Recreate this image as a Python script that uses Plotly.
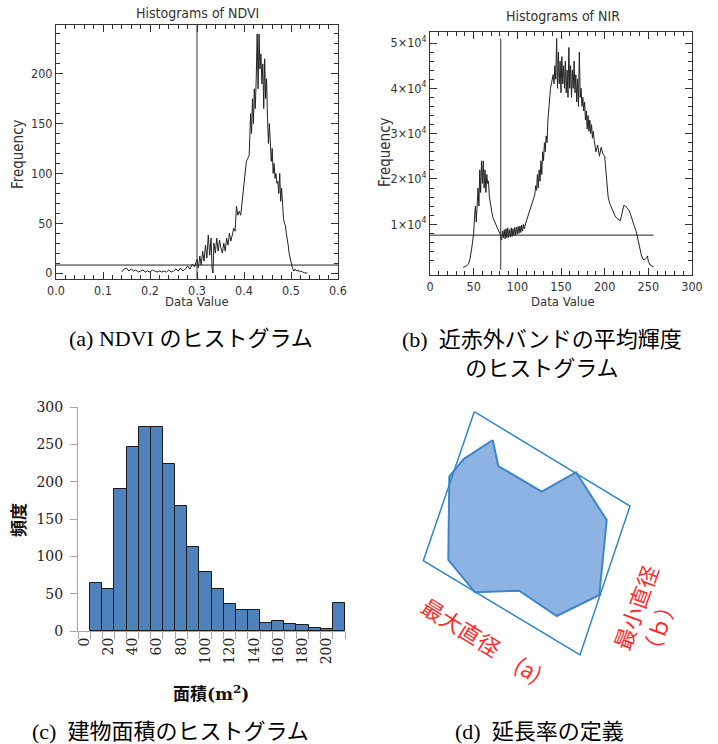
import plotly.graph_objects as go

W, H = 718, 744

# ---------------- (a) NDVI histogram ----------------
ndvi_x = [0.140, 0.145, 0.150, 0.155, 0.160, 0.165, 0.170, 0.175, 0.180, 0.185,
          0.190, 0.195, 0.200, 0.205, 0.210, 0.215, 0.220, 0.225, 0.230, 0.235,
          0.240, 0.245, 0.250, 0.255, 0.260, 0.265, 0.270, 0.275, 0.280, 0.285,
          0.290, 0.295, 0.300,
          0.303, 0.306, 0.309, 0.312, 0.315, 0.318, 0.321, 0.324, 0.327, 0.330,
          0.332, 0.334,
          0.336, 0.339, 0.342, 0.345, 0.348, 0.351, 0.354, 0.357, 0.360, 0.363,
          0.366, 0.369, 0.372, 0.375, 0.378, 0.381, 0.384, 0.387, 0.390, 0.393,
          0.396, 0.399, 0.402, 0.405, 0.408, 0.411, 0.414,
          0.416, 0.418, 0.420, 0.422, 0.424, 0.426, 0.428, 0.430, 0.432, 0.434,
          0.436, 0.438, 0.440, 0.442, 0.444, 0.446, 0.448, 0.450, 0.452, 0.454,
          0.456, 0.458, 0.460, 0.462, 0.464, 0.466, 0.468, 0.470, 0.472, 0.474,
          0.476, 0.478, 0.480, 0.482, 0.484, 0.486, 0.488, 0.490, 0.492, 0.494,
          0.496, 0.498, 0.500,
          0.503, 0.506, 0.509, 0.512, 0.515, 0.518, 0.521,
          0.525, 0.530, 0.535]
ndvi_freq = [1, 4, 5, 2, 4, 2, 3, 1, 2, 3,
             1, 2, 1, 3, 2, 1, 2, 1, 2, 1,
             3, 1, 2, 4, 2, 5, 2, 4, 7, 4,
             9, 6, 14,
             5, 17, 8, 22, 12, 28, 15, 38, 18, 35,
             5, 0,
             30, 20, 35, 22, 33, 25, 20, 30, 22, 35,
             28, 40, 32, 38, 45, 42, 67, 58, 62, 58,
             72, 80, 95, 112, 115, 118, 160,
             140, 175, 150, 185, 165, 195, 240, 185, 240, 205,
             220, 190, 210, 165, 215, 175, 195, 155, 130, 150,
             125, 112, 125, 100, 110, 95, 100, 90, 92, 80,
             100, 72, 85, 65, 55, 50, 48, 40, 35, 28,
             20, 15, 10,
             5, 2, 4, 2, 3, 1, 2,
             1, 0, 0]
ndvi_threshold = 0.30
ndvi_freq_threshold = 8

# ---------------- (b) NIR histogram ----------------
nir_x = [38, 41, 44, 46, 48, 50, 51, 52, 53, 54, 55, 56, 57, 58, 59, 60, 61, 62, 63, 64,
         65, 66, 67, 68, 69, 70, 71, 72, 74, 76, 78, 80, 81, 82, 83, 84, 85, 86, 87, 88,
         89, 90, 91, 92, 93, 94, 95, 96, 97, 98, 99, 100, 101, 102, 103, 104, 105, 106, 107, 108,
         110, 112, 114, 116, 118, 120, 121, 122, 123, 124, 125, 126, 127, 128, 129, 130, 131, 132, 133, 134,
         135, 136, 137, 138, 139, 140, 141, 142, 143, 144, 145, 146, 147, 148, 149, 150, 151, 152, 153, 154,
         155, 156, 157, 158, 159, 160, 161, 162, 163, 164, 165, 166, 167, 168, 169, 170, 171, 172, 173, 174,
         175, 176, 177, 178, 179, 180, 181, 182, 183, 184, 185, 186, 187, 188, 190, 192, 194, 196, 198, 200,
         202, 204, 206, 208, 210, 212, 214, 216, 218, 220, 222, 224, 226, 228, 230, 232, 234, 236, 238, 240,
         242, 244, 246, 248, 249, 250, 252, 254, 256]
nir_freq = [500, 700, 1200, 2500, 5000, 8000, 11600, 14000, 10500, 16000,
            18000, 14000, 22000, 17000, 24000, 19000, 24000, 18000, 22000, 17000,
            21000, 19000, 19500, 16000, 14500, 13000, 12500, 11500, 10500, 9400,
            8800, 8000, 7000, 6500, 8500, 7000, 8800, 6800, 9000, 7000,
            9200, 7100, 8800, 7200, 9200, 7300, 9000, 7500, 9300, 7600,
            9400, 7800, 9500, 8000, 9600, 8200, 9800, 8500, 10000, 9000,
            10500, 11800, 12800, 14000, 15300, 16500, 18500, 17500, 21000, 18000,
            22000, 19500, 24000, 21000, 26000, 24000, 28000, 26000, 29500, 28000,
            33000, 36000, 38000, 40000, 41000, 42000, 43000, 41000, 45000, 42000,
            51000, 40000, 48000, 41000, 46000, 39000, 47000, 41000, 45000, 40000,
            46000, 39000, 44000, 38000, 49000, 40000, 45000, 38000, 44000, 40000,
            46000, 39000, 43000, 37000, 42000, 36000, 48000, 38000, 40000, 36000,
            38000, 35000, 37000, 33000, 35000, 31000, 34000, 30500, 33000, 30000,
            32000, 29000, 30500, 28500, 26000, 27500, 25000, 27000, 25500, 25000,
            20000, 16000, 14500, 13500, 12500, 11800, 11300, 11000, 10800, 12500,
            14200, 14000, 13500, 13000, 12000, 10500, 9500, 8500, 6500, 4800,
            3200, 2200, 2200, 2600, 3000, 1800, 1000, 800, 600]
nir_threshold = 81
nir_threshold_top = 51000
nir_freq_threshold = 7600
nir_line_end = 256
nir_tickvals = [10000, 20000, 30000, 40000, 50000]
nir_ticktext = ["1×10<sup>4</sup>", "2×10<sup>4</sup>", "3×10<sup>4</sup>",
                "4×10<sup>4</sup>", "5×10<sup>4</sup>"]

# ---------------- (c) building area histogram ----------------
area_categories = ["0", "10", "20", "30", "40", "50", "60", "70", "80", "90", "100",
                   "110", "120", "130", "140", "150", "160", "170", "180", "190", "200", "210"]
area_bar_categories = area_categories[1:]
area_counts = [64, 56, 190, 246, 273, 273, 224, 168, 112, 79, 56,
               36, 28, 28, 11, 14, 9, 8, 4, 3, 38]
area_tick_labels = ["0", "", "20", "", "40", "", "60", "", "80", "", "100",
                    "", "120", "", "140", "", "160", "", "180", "", "200", ""]

# ---------------- (d) elongation diagram (local units) ----------------
rect_x = [94.3, 250.0, 200.0, 43.3, 94.3]
rect_y = [288.3, 194.0, 45.0, 139.3, 288.3]
poly_x = [112.7, 118.3, 161.7, 196.0, 226.7, 219.3, 176.7, 139.3, 95.0, 68.3, 69.3, 83.3, 112.7]
poly_y = [260.0, 234.0, 208.3, 227.7, 180.0, 105.0, 84.0, 109.3, 107.7, 140.0, 223.3, 240.7, 260.0]


def dx(a, b):
    return [a / W, b / W]


def dy(top, bottom):
    return [1 - bottom / H, 1 - top / H]


def px(x):
    return x / W


def py(y):
    return 1 - y / H


IDL_FONT = "Liberation Sans Narrow, DejaVu Sans Condensed, Liberation Sans, sans-serif"
IDL_COL = "#333333"
CAP_FONT = "Liberation Serif, Noto Sans CJK JP, serif"

fig = go.Figure()

# (a)
fig.add_trace(go.Scatter(x=ndvi_x, y=ndvi_freq, mode="lines",
                         line=dict(color="#222222", width=1), xaxis="x", yaxis="y"))
# (b)
fig.add_trace(go.Scatter(x=nir_x, y=nir_freq, mode="lines",
                         line=dict(color="#222222", width=1), xaxis="x2", yaxis="y2"))
fig.add_trace(go.Scatter(x=[nir_threshold, nir_threshold], y=[0, nir_threshold_top], mode="lines",
                         line=dict(color="#333333", width=1), xaxis="x2", yaxis="y2"))
fig.add_trace(go.Scatter(x=[0, nir_line_end], y=[nir_freq_threshold, nir_freq_threshold], mode="lines",
                         line=dict(color="#222222", width=1), xaxis="x2", yaxis="y2"))
# (c)
fig.add_trace(go.Bar(x=area_bar_categories, y=area_counts,
                     marker=dict(color="#4F81BD", line=dict(color="#1a1a1a", width=1)),
                     xaxis="x3", yaxis="y3"))
# (d)
fig.add_trace(go.Scatter(x=poly_x, y=poly_y, mode="lines", fill="toself",
                         fillcolor="#8DB3E2", line=dict(color="#3F86C8", width=2),
                         xaxis="x4", yaxis="y4"))
fig.add_trace(go.Scatter(x=rect_x, y=rect_y, mode="lines",
                         line=dict(color="#2E86C8", width=1.5),
                         xaxis="x4", yaxis="y4"))

idl_axis = dict(showline=True, linecolor=IDL_COL, linewidth=1, mirror="ticks",
                ticks="inside", ticklen=7, tickcolor=IDL_COL, showgrid=False, zeroline=False,
                automargin=False,
                tickfont=dict(family=IDL_FONT, size=12.5, color=IDL_COL))

fig.update_layout(
    template="none",
    width=W, height=H, margin=dict(l=0, r=0, t=0, b=0, pad=0), autosize=False,
    paper_bgcolor="white", plot_bgcolor="white", showlegend=False, bargap=0,
    xaxis=dict(domain=dx(56, 338), range=[0, 0.6], dtick=0.1, tickformat=".1f", anchor="y",
               minor=dict(dtick=0.02, ticks="inside", ticklen=4, tickcolor=IDL_COL, showgrid=False), **idl_axis),
    yaxis=dict(domain=dy(25, 279), range=[-6, 249], tickvals=[0, 50, 100, 150, 200], anchor="x",
               minor=dict(tickvals=[10 * k for k in range(0, 25)], ticks="inside", ticklen=4,
                          tickcolor=IDL_COL, showgrid=False), **idl_axis),
    xaxis2=dict(domain=dx(430, 692), range=[0, 300], dtick=50, anchor="y2",
                minor=dict(dtick=10, ticks="inside", ticklen=4, tickcolor=IDL_COL, showgrid=False), **idl_axis),
    yaxis2=dict(domain=dy(32, 275), range=[-1200, 52430], tickvals=nir_tickvals,
                ticktext=nir_ticktext, anchor="x2",
                minor=dict(tickvals=[2000 * k for k in range(1, 26)], ticks="inside", ticklen=4,
                           tickcolor=IDL_COL, showgrid=False), **idl_axis),
    xaxis3=dict(domain=dx(78, 345), type="category", categoryorder="array",
                categoryarray=area_categories, range=[-0.5, 21.5], anchor="y3",
                tickmode="array", tickvals=area_categories, ticktext=area_tick_labels,
                tickson="boundaries", ticks="outside", ticklen=7, tickcolor="#A6A6A6",
                showline=True, linecolor="#A6A6A6", linewidth=1, tickangle=-90,
                showgrid=False, zeroline=False, automargin=False,
                tickfont=dict(family="DejaVu Serif, serif", size=14, color="#222222")),
    yaxis3=dict(domain=dy(407, 631), range=[0, 300], dtick=50, anchor="x3",
                ticks="outside", ticklen=7, tickcolor="#A6A6A6",
                showline=True, linecolor="#A6A6A6", linewidth=1,
                showgrid=False, zeroline=False, ticklabelstandoff=4, automargin=False,
                tickfont=dict(family="DejaVu Serif, serif", size=14, color="#222222")),
    xaxis4=dict(domain=dx(380, 718), range=[0, 338], visible=False, anchor="y4", automargin=False),
    yaxis4=dict(domain=dy(390, 700), range=[0, 310], visible=False, anchor="x4", automargin=False),
)

# threshold lines in (a)
fig.add_shape(type="line", xref="x", yref="y domain", x0=ndvi_threshold, x1=ndvi_threshold,
              y0=0, y1=1, line=dict(color="#333333", width=1))
fig.add_shape(type="line", xref="x domain", yref="y", x0=0, x1=1,
              y0=ndvi_freq_threshold, y1=ndvi_freq_threshold, line=dict(color="#222222", width=1))

ann = []


def text(x, y, s, size, family, color="#000000", angle=0, align="center"):
    ann.append(dict(x=px(x), y=py(y), xref="paper", yref="paper", text=s, showarrow=False,
                    textangle=angle, align=align, xanchor="center", yanchor="middle",
                    font=dict(family=family, size=size, color=color)))


# IDL titles
text(197, 13, "Histograms of NDVI", 14, IDL_FONT, IDL_COL)
text(18, 154, "Frequency", 15, IDL_FONT, IDL_COL, angle=-90)
text(197, 301, "Data Value", 13, IDL_FONT, IDL_COL)
text(563, 16, "Histograms of NIR", 14, IDL_FONT, IDL_COL)
text(385, 152, "Frequency", 15, IDL_FONT, IDL_COL, angle=-90)
text(563, 301, "Data Value", 13, IDL_FONT, IDL_COL)

# (c) titles
text(17, 520, "<b>頻度</b>", 17, "Noto Sans CJK JP, sans-serif", "#111111", angle=-90)
text(211, 693, "<b>面積(m<sup>2</sup>)</b>", 17, "DejaVu Serif, Noto Sans CJK JP, serif", "#111111")

# (d) labels
text(482, 639, "最大直径\u3000(a)", 22, "Noto Sans CJK JP, sans-serif", "#FF2A2A", angle=32)
text(648, 612, "最小直径<br>（ｂ）", 22, "Noto Sans CJK JP, sans-serif", "#FF2A2A", angle=-70, align="left")

# captions
text(191, 338, "(a) NDVI のヒストグラム", 22, CAP_FONT)
text(542, 354, "(b)\u00a0\u00a0近赤外バンドの平均輝度<br>のヒストグラム", 22, CAP_FONT)
text(170, 731, "(c)\u00a0\u00a0建物面積のヒストグラム", 22, CAP_FONT)
text(539, 731, "(d)\u00a0\u00a0延長率の定義", 22, CAP_FONT)

fig.update_layout(annotations=ann)

fig.write_html("out.html", config={"displayModeBar": False},
               post_script="document.body.style.margin='0px';document.body.style.padding='0px';")
